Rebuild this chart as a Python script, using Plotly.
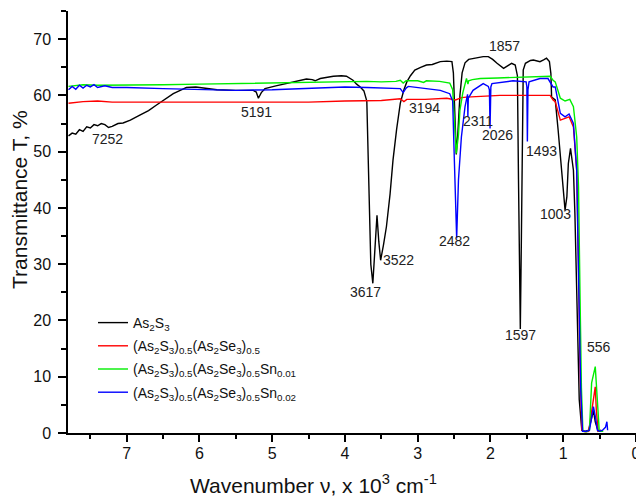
import plotly.graph_objects as go

# wavenumber in 10^3 cm^-1, transmittance in %
black_x = [7.80, 7.75, 7.70, 7.65, 7.60, 7.55, 7.50, 7.45, 7.40, 7.35, 7.30, 7.25, 7.20, 7.12, 7.05,
           6.95, 6.82, 6.70, 6.59, 6.47, 6.36, 6.25, 6.18, 6.05, 5.95, 5.76, 5.50, 5.26, 5.22, 5.19,
           5.15, 5.10, 4.95, 4.85, 4.70, 4.53, 4.45, 4.41, 4.34, 4.25, 4.16, 4.05, 3.98, 3.89, 3.84,
           3.79, 3.74, 3.70, 3.685, 3.665, 3.645, 3.617, 3.585, 3.56, 3.535, 3.51, 3.47, 3.43, 3.38,
           3.34, 3.29, 3.24, 3.19, 3.15, 3.10, 3.04, 2.96, 2.88, 2.80, 2.69, 2.60, 2.53, 2.51, 2.49,
           2.47, 2.45, 2.42, 2.39, 2.35, 2.30, 2.20, 2.10, 2.03, 1.97, 1.91, 1.85, 1.82, 1.76, 1.71,
           1.66, 1.63, 1.615, 1.60, 1.59, 1.575, 1.56, 1.55, 1.52, 1.45, 1.41, 1.32, 1.27, 1.23, 1.19,
           1.17, 1.16, 1.11, 1.07, 1.02, 0.975, 0.95, 0.93, 0.90, 0.88, 0.86, 0.84, 0.815, 0.78, 0.745,
           0.70, 0.65, 0.62, 0.585, 0.56, 0.52, 0.48]
black_y = [52.8, 53.3, 53.1, 53.9, 53.6, 54.4, 54.2, 54.8, 54.6, 55.0, 54.8, 54.3, 54.5, 55.0, 55.1,
           55.6, 56.5, 57.3, 58.3, 59.3, 60.3, 61.0, 61.4, 61.5, 61.3, 61.0, 60.9, 60.9, 60.6, 59.5,
           60.5, 61.2, 61.7, 62.0, 62.4, 62.9, 62.8, 62.6, 63.0, 63.2, 63.4, 63.5, 63.4, 62.7, 62.0,
           61.5, 60.8, 59.0, 50.0, 38.0, 30.0, 26.6, 33.0, 38.7, 34.0, 30.7, 33.5, 36.7, 42.5,
           48.5, 54.0, 58.6, 61.0, 62.4, 63.5, 64.5, 65.0, 65.4, 65.5, 66.0, 66.1, 66.0, 64.0, 55.0,
           49.5, 53.0, 60.0, 64.0, 65.8, 66.4, 66.7, 66.9, 66.9, 66.4, 65.7, 65.0, 64.8, 65.3, 65.7,
           65.4, 63.5, 45.0, 25.0, 18.5, 35.0, 58.0, 64.5, 65.7, 66.2, 66.3, 66.0, 66.3, 66.6, 66.0,
           63.9, 59.7, 59.2, 53.8, 46.7, 39.6, 42.0, 47.9, 50.6, 49.0, 46.7, 39.1, 23.6, 5.9, 0.5,
           0.3, 0.5, 2.0, 4.0, 2.0, 0.3, 0.5]

red_x = [7.80, 7.60, 7.40, 7.20, 7.00, 6.50, 6.00, 5.50, 5.00, 4.50, 4.00, 3.50, 3.24, 3.19, 3.15,
         2.90, 2.60, 2.48, 2.40, 2.33, 1.87, 1.23, 1.18, 1.14, 1.11, 1.04, 0.975, 0.92, 0.86, 0.815,
         0.79, 0.77, 0.745, 0.70, 0.65, 0.61, 0.585, 0.56, 0.545, 0.52, 0.46]
red_y = [58.6, 58.9, 59.0, 58.8, 58.8, 58.8, 58.7, 58.8, 58.8, 58.8, 59.0, 59.1, 59.4, 58.9, 59.3,
         59.3, 59.5, 59.2, 59.6, 59.7, 60.0, 60.0, 60.0, 59.2, 58.9, 55.6, 55.9, 56.2, 54.4, 46.7,
         30.0, 12.0, 0.5, 0.2, 0.3, 4.0, 6.0, 8.2, 4.0, 0.3, 0.3]

green_x = [7.80, 7.60, 7.40, 7.00, 6.50, 6.00, 5.50, 5.00, 4.50, 4.00, 3.70, 3.50, 3.30, 3.24, 3.20,
           3.16, 3.00, 2.92, 2.88, 2.70, 2.56, 2.52, 2.49, 2.47, 2.44, 2.42, 2.38, 2.35, 2.33, 2.31,
           2.30, 2.25, 2.14, 1.90, 1.64, 1.40, 1.23, 1.18, 1.14, 1.11, 1.04, 0.975, 0.91, 0.86, 0.815,
           0.79, 0.77, 0.75, 0.73, 0.68, 0.64, 0.61, 0.56, 0.53, 0.505, 0.45]
green_y = [61.6, 61.9, 61.8, 61.9, 61.9, 62.0, 62.1, 62.2, 62.4, 62.5, 62.5, 62.4, 62.5, 62.7, 62.2,
           62.6, 62.6, 62.3, 62.6, 62.5, 62.2, 61.0, 55.0, 49.7, 53.0, 57.4, 60.5, 61.8, 63.0, 62.0,
           62.6, 62.8, 63.0, 63.1, 63.2, 63.3, 63.4, 63.4, 62.7, 62.4, 59.5, 59.0, 59.3, 58.0, 52.6,
           43.8, 25.0, 8.0, 0.3, 0.2, 0.5, 8.9, 11.8, 5.0, 0.3, 0.3]

blue_x = [7.80, 7.75, 7.70, 7.65, 7.60, 7.55, 7.50, 7.45, 7.40, 7.30, 7.20, 7.00, 6.50, 6.00, 5.50,
          5.00, 4.60, 4.34, 4.00, 3.70, 3.50, 3.24, 3.20, 3.16, 3.13, 3.00, 2.92, 2.85, 2.69, 2.56,
          2.52, 2.50, 2.48, 2.465, 2.44, 2.40, 2.35, 2.33, 2.315, 2.311, 2.305, 2.24, 2.10, 2.03,
          2.015, 2.006, 1.995, 1.98, 1.69, 1.51, 1.50, 1.493, 1.485, 1.47, 1.32, 1.21, 1.14, 1.11,
          1.04, 0.975, 0.92, 0.86, 0.815, 0.79, 0.76, 0.735, 0.68, 0.64, 0.61, 0.585, 0.56, 0.53,
          0.50, 0.46, 0.42, 0.40, 0.39]
blue_y = [61.0, 61.6, 61.1, 61.8, 61.3, 61.8, 61.5, 61.9, 61.4, 61.7, 61.4, 61.4, 61.2, 61.0, 60.9,
          61.0, 61.2, 61.4, 61.5, 61.4, 61.3, 61.2, 60.5, 61.3, 61.6, 61.4, 61.2, 61.2, 60.9, 60.3,
          59.0, 50.0, 38.0, 34.6, 45.0, 52.6, 58.0, 59.7, 60.2, 56.2, 59.5, 60.9, 62.1, 61.6,
          61.0, 54.1, 61.5, 62.1, 62.6, 62.4, 61.5, 51.8, 61.0, 62.4, 63.0, 63.0, 61.5, 61.5,
          56.8, 56.2, 56.7, 55.0, 46.7, 28.0, 8.0, 0.3, 0.3, 0.5, 3.0, 4.7, 3.0, 0.5,
          0.3, 0.5, 1.0, 2.0, 0.5]

series_names = ["As<sub>2</sub>S<sub>3</sub>",
                "(As<sub>2</sub>S<sub>3</sub>)<sub>0.5</sub>(As<sub>2</sub>Se<sub>3</sub>)<sub>0.5</sub>",
                "(As<sub>2</sub>S<sub>3</sub>)<sub>0.5</sub>(As<sub>2</sub>Se<sub>3</sub>)<sub>0.5</sub>Sn<sub>0.01</sub>",
                "(As<sub>2</sub>S<sub>3</sub>)<sub>0.5</sub>(As<sub>2</sub>Se<sub>3</sub>)<sub>0.5</sub>Sn<sub>0.02</sub>"]
series_colors = ["#000000", "#ff0000", "#00ee00", "#0000ff"]

peak_labels = ["7252", "5191", "3194", "2311", "2026", "1857", "1493", "1003",
               "3617", "3522", "2482", "1597", "556"]
peak_label_x = [7.26, 5.22, 2.91, 2.17, 1.91, 1.81, 1.305, 1.10, 3.72, 3.26, 2.49, 1.59, 0.51]
peak_label_y = [52.2, 57.0, 57.7, 55.4, 52.9, 68.8, 50.1, 38.9, 25.0, 30.7, 34.1, 17.4, 15.3]

FONT = "Liberation Sans, Arial"

fig = go.Figure()
data = [(black_x, black_y), (red_x, red_y), (green_x, green_y), (blue_x, blue_y)]
for i, ((xs, ys), name, col) in enumerate(zip(data, series_names, series_colors)):
    fig.add_trace(go.Scatter(x=xs, y=ys, mode="lines", name=name,
                             line=dict(color=col, width=1.4), legendgroup=f"g{i}"))

for t, x, y in zip(peak_labels, peak_label_x, peak_label_y):
    fig.add_annotation(x=x, y=y, text=t, showarrow=False, xanchor="center", yanchor="middle",
                       font=dict(family=FONT, size=14, color="#222"))

# axis titles
fig.add_annotation(xref="paper", yref="paper", x=(313 - 68) / 568, y=-(484 - 433) / 422,
                   xanchor="center", yanchor="middle",
                   text="Wavenumber \u03bd, x 10<sup>3</sup> cm<sup>-1</sup>", showarrow=False,
                   font=dict(family=FONT, size=21, color="#111"))
fig.add_annotation(xref="paper", yref="paper", x=-(68 - 19) / 568, y=(433 - 200) / 422,
                   xanchor="center", yanchor="middle",
                   text="Transmittance T, %", textangle=-90, showarrow=False,
                   font=dict(family=FONT, size=21, color="#111"))

fig.update_layout(
    width=636, height=498,
    margin=dict(l=68, r=0, t=11, b=65),
    paper_bgcolor="white", plot_bgcolor="white",
    font=dict(family=FONT, size=16, color="#111"),
    showlegend=True,
    legend=dict(x=(93 - 68) / 568, y=(433 - 307) / 422, xanchor="left", yanchor="top",
                bgcolor="rgba(0,0,0,0)", font=dict(size=14), tracegroupgap=2.0),
    xaxis=dict(range=[7.807, 0], tickvals=[0, 1, 2, 3, 4, 5, 6, 7],
               ticks="outside", ticklen=7, tickwidth=1.5, tickcolor="black",
               showline=True, linecolor="black", linewidth=1.5, showgrid=False, zeroline=False,
               minor=dict(dtick=0.5, ticks="outside", ticklen=4, tickwidth=1.5, tickcolor="black"),
               automargin=False, ticklabelstandoff=-2, ticklabeloverflow="allow"),
    yaxis=dict(range=[0, 75], tickvals=[0, 10, 20, 30, 40, 50, 60, 70],
               ticks="outside", ticklen=8, tickwidth=1.5, tickcolor="black",
               showline=True, linecolor="black", linewidth=1.5, showgrid=False, zeroline=False,
               minor=dict(dtick=5, ticks="outside", ticklen=5, tickwidth=1.5, tickcolor="black"),
               automargin=False, ticklabelstandoff=4),
)

fig.write_html("out.html")
